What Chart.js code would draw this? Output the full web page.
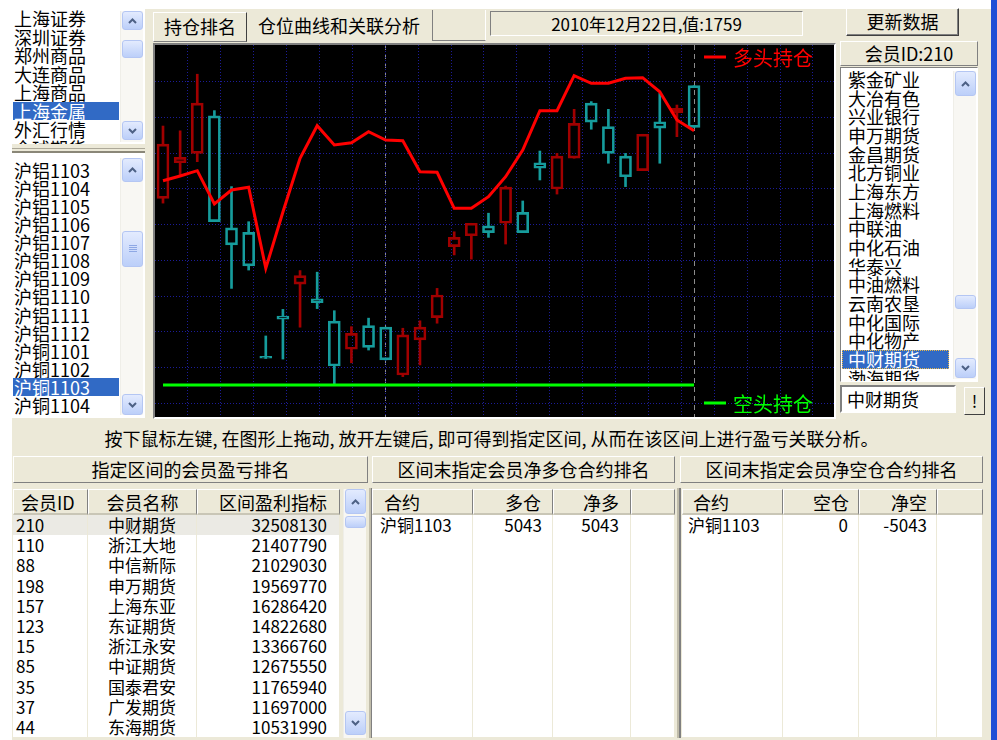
<!DOCTYPE html>
<html lang="zh-CN">
<head>
<meta charset="UTF-8">
<title>仓位曲线和关联分析</title>
<script src="https://cdn.jsdelivr.net/npm/chart.js@4.4.1/dist/chart.umd.min.js"></script>
<style>
    body { margin: 0; width: 997px; height: 740px; position: relative; overflow: hidden; background: #ece9d8; font-family: "Noto Sans CJK SC", "Noto Sans", sans-serif; color: #000; }
    div { box-sizing: border-box; }
    .a { position: absolute; }
    .raised { border: 1px solid; border-color: #fff #808080 #808080 #fff; background: #ece9d8; }
    .sunken { border: 1px solid; border-color: #808080 #fff #fff #808080; }
    .list { background: #fff; overflow: hidden; }
    .sel { background: #316ac5; color: #fff; }
    .sb { width: 23px; background: #f8f7f3; border-left: 1px solid #efeee8; }
    .btn { left: 1px; width: 21px; border: 1px solid #b4c6f3; border-radius: 3px; background: linear-gradient(#e3ebfe, #bccff9); display: flex; align-items: center; justify-content: center; }
    #chartWrap { left: 153px; top: 43px; width: 683px; height: 376px; border: 2px solid; border-color: #808080 #fff #fff #808080; }
    #chart { display: block; background: #000; }
</style>
</head>

<body>
    <div class="a" style="left:0;top:0;width:991px;height:9px;background:#fff"></div>
    <div class="a" style="left:0;top:0;width:12px;height:740px;background:#fff"></div>
    <div class="a" style="left:991px;top:0;width:6px;height:740px;background:#1f4fd6"></div>

    <div id="chartWrap" class="a"><canvas id="chart" width="679" height="372"></canvas></div>
</body>

<script>
    // 沪铜1103 daily prices, member 210 positions
    const days = ['11-09', '11-10', '11-11', '11-12', '11-15', '11-16', '11-17', '11-18', '11-19', '11-22', '11-23',
        '11-24', '11-25', '11-26', '11-29', '11-30', '12-01', '12-02', '12-03', '12-06', '12-07', '12-08',
        '12-09', '12-10', '12-13', '12-14', '12-15', '12-16', '12-17', '12-20', '12-21', '12-22'];
    const openPrice = [66230, 67570, 67920, 69330, 65120, 64950, 60210, 61800, 63000, 62450, 61610,
        60550, 61440, 61380, 59580, 60900, 61740, 64410, 64820, 65190, 65290, 65700,
        67570, 66580, 67740, 69810, 68930, 67820, 67270, 69110, 69450, 70470];
    const highPrice = [68950, 68770, 70900, 69530, 66670, 65350, 61050, 62050, 63510, 63450, 62000,
        61400, 61720, 61380, 61340, 61620, 62840, 64970, 65290, 65670, 66690, 66130,
        68010, 67920, 69580, 69870, 69580, 67920, 68640, 70180, 69740, 70470];
    const lowPrice = [66050, 67110, 67610, 65350, 62840, 63530, 60210, 60180, 61380, 62080, 59200,
        60040, 60520, 60150, 59520, 59960, 61530, 64100, 63940, 64760, 64510, 64940,
        66920, 66390, 67740, 68830, 67550, 66670, 67270, 67550, 68550, 68900];
    const closePrice = [68270, 67770, 69810, 65350, 64480, 63690, 60210, 61680, 63320, 62300, 59920,
        61150, 60620, 60150, 61090, 61380, 62590, 64760, 65290, 64940, 66650, 64940,
        67360, 67820, 69050, 69100, 67920, 67040, 68640, 68870, 69620, 68900];
    const longHold = [4051, 4145, 4250, 3589, 3867, 3921, 2314, 3431, 4496, 5142, 4759,
        4805, 5023, 4859, 4845, 4230, 4218, 3504, 3504, 3734, 4131, 4660,
        5440, 5440, 6134, 5983, 5983, 6082, 6094, 5816, 5255, 5043];
    const shortHold = [0, 0, 0, 0, 0, 0, 0, 0, 0, 0, 0,
        0, 0, 0, 0, 0, 0, 0, 0, 0, 0, 0,
        0, 0, 0, 0, 0, 0, 0, 0, 0, 0];
    const intervalMarks = [13, 31];

    const upColor = '#a00000';
    const downColor = '#169c9c';
    const candleColor = days.map((d, i) => closePrice[i] > openPrice[i] ? upColor : downColor);

    const bodyData = days.map((d, i) => ({ x: i, y: [openPrice[i], closePrice[i]] }));
    const upperWick = days.map((d, i) => ({ x: i, y: [Math.max(openPrice[i], closePrice[i]), highPrice[i]] }));
    const lowerWick = days.map((d, i) => ({ x: i, y: [lowPrice[i], Math.min(openPrice[i], closePrice[i])] }));
    const longData = days.map((d, i) => ({ x: i, y: longHold[i] }));
    const shortData = days.map((d, i) => ({ x: i, y: shortHold[i] }));

    // line keys drawn inside the plot, at the right side
    const keyRows = [12, 358];
    const lineKeys = {
        id: 'lineKeys',
        afterDatasetsDraw(chart) {
            const ctx = chart.ctx;
            ctx.save();
            ctx.font = '20px "Noto Sans CJK SC"';
            ctx.textBaseline = 'middle';
            chart.data.datasets.filter(ds => ds.type === 'line').forEach((ds, k) => {
                const y = keyRows[k];
                ctx.strokeStyle = ds.borderColor;
                ctx.lineWidth = 3;
                ctx.beginPath();
                ctx.moveTo(549, y);
                ctx.lineTo(571, y);
                ctx.stroke();
                ctx.fillStyle = ds.borderColor;
                ctx.fillText(ds.label, 578, y + 1);
            });
            ctx.restore();
        }
    };

    function evenTicks(count) {
        return scale => {
            const t = [];
            for (let k = 1; k <= count; k++) t.push({ value: k });
            scale.ticks = t;
        };
    }

    const hiddenTicks = { display: false };

    new Chart(document.getElementById('chart'), {
        type: 'bar',
        data: {
            datasets: [
                { label: 'K线', data: bodyData, xAxisID: 'x', yAxisID: 'y', backgroundColor: 'rgba(0,0,0,0)', borderColor: candleColor, borderWidth: 2, borderSkipped: false, barThickness: 12, minBarLength: 2, grouped: false, order: 1 },
                { label: '上影线', data: upperWick, xAxisID: 'x', yAxisID: 'y', backgroundColor: candleColor, borderWidth: 0, barThickness: 2, grouped: false, order: 2 },
                { label: '下影线', data: lowerWick, xAxisID: 'x', yAxisID: 'y', backgroundColor: candleColor, borderWidth: 0, barThickness: 2, grouped: false, order: 2 },
                { type: 'line', label: '多头持仓', data: longData, xAxisID: 'x', yAxisID: 'y2', borderColor: '#ff0000', borderWidth: 3, pointRadius: 0, tension: 0, order: 0 },
                { type: 'line', label: '空头持仓', data: shortData, xAxisID: 'x', yAxisID: 'y2', borderColor: '#00ff00', borderWidth: 3, pointRadius: 0, tension: 0, order: 0 }
            ]
        },
        options: {
            responsive: false,
            animation: false,
            layout: { padding: 0 },
            plugins: { legend: { display: false }, tooltip: { enabled: false } },
            scales: {
                x: {
                    type: 'linear', position: 'bottom', min: -0.467, max: 39.17, offset: false,
                    afterBuildTicks: scale => { scale.ticks = intervalMarks.map(v => ({ value: v })); },
                    ticks: hiddenTicks,
                    grid: { color: '#8c8c8c', drawTicks: false, offset: false },
                    border: { display: false, dash: [5, 4] }
                },
                xGrid: {
                    type: 'linear', axis: 'x', position: 'bottom', min: 0, max: 20.64, offset: false,
                    afterBuildTicks: evenTicks(20),
                    ticks: hiddenTicks,
                    grid: { color: '#1c1c98', drawTicks: false, offset: false },
                    border: { display: false, dash: [1, 2] }
                },
                y: { type: 'linear', min: 58000, max: 72000, display: false },
                y2: { type: 'linear', min: -634.6, max: 6742.5, display: false },
                yGrid: {
                    type: 'linear', axis: 'y', position: 'left', reverse: true, min: -0.028, max: 10.383,
                    afterBuildTicks: evenTicks(10),
                    ticks: hiddenTicks,
                    grid: { color: '#1c1c98', drawTicks: false },
                    border: { display: false, dash: [1, 2] }
                }
            }
        },
        plugins: [lineKeys]
    });

    // ---------- surrounding window ----------
    const exchanges = ['上海证券', '深圳证券', '郑州商品', '大连商品', '上海商品', '上海金属', '外汇行情', '全球期货'];
    const contracts = ['沪铝1103', '沪铝1104', '沪铝1105', '沪铝1106', '沪铝1107', '沪铝1108', '沪铝1109',
        '沪铝1110', '沪铝1111', '沪铝1112', '沪铜1101', '沪铜1102', '沪铜1103', '沪铜1104'];
    const members = ['紫金矿业', '大冶有色', '兴业银行', '申万期货', '金昌期货', '北方铜业', '上海东方', '上海燃料',
        '中联油', '中化石油', '华泰兴', '中油燃料', '云南农垦', '中化国际', '中化物产', '中财期货', '渤海期货'];
    const rankIds = ['210', '110', '88', '198', '157', '123', '15', '85', '35', '37', '44'];
    const rankNames = ['中财期货', '浙江大地', '中信新际', '申万期货', '上海东亚', '东证期货', '浙江永安', '中证期货', '国泰君安', '广发期货', '东海期货'];
    const rankProfit = ['32508130', '21407790', '21029030', '19569770', '16286420', '14822680', '13366760', '12675550', '11765940', '11697000', '10531990'];

    const page = document.body;

    function box(parent, css, html, cls) {
        const d = document.createElement('div');
        d.className = 'a ' + (cls || '');
        d.style.cssText = css;
        if (html !== undefined) d.innerHTML = html;
        parent.appendChild(d);
        return d;
    }

    function arrow(up) {
        const pts = up ? '1,5 4.5,1.5 8,5' : '1,1 4.5,4.5 8,1';
        return `<svg width="9" height="6" viewBox="0 0 9 6"><polyline points="${pts}" fill="none" stroke="#4d6185" stroke-width="2"/></svg>`;
    }
    const grip = '<svg width="8" height="8" viewBox="0 0 8 8"><path d="M0 0.5h8M0 2.5h8M0 4.5h8M0 6.5h8" stroke="#8ea8e5" stroke-width="1"/></svg>';

    function scrollBar(parent, left, top, height, upH, thumbTop, thumbH, downTop, downH, withGrip) {
        const sb = box(parent, `left:${left}px;top:${top}px;height:${height}px`, '', 'sb');
        box(sb, `top:0;height:${upH}px`, arrow(true), 'btn');
        box(sb, `top:${thumbTop}px;height:${thumbH}px`, withGrip ? grip : '', 'btn');
        box(sb, `top:${downTop}px;height:${downH}px`, arrow(false), 'btn');
    }

    function listRows(parent, items, top0, step, sel, width, padL) {
        items.forEach((t, i) => {
            box(parent, `left:1px;top:${top0 + step * i}px;width:${width}px;height:${step}px;line-height:${step}px;padding-left:${padL}px;font-size:18px;white-space:nowrap`, t, i === sel ? 'sel' : '');
        });
    }

    // left lists
    const list1 = box(page, 'left:12px;top:8px;width:133px;height:136px', '', 'list');
    listRows(list1, exchanges, 1, 18.5, 5, 106, 1);
    scrollBar(list1, 108, 3, 131, 19, 29, 18, 110, 19, false);

    box(page, 'left:12px;top:148px;width:133px;height:1px;background:#aca899');
    const list2 = box(page, 'left:12px;top:151px;width:133px;height:267px;border-top:2px solid #8a8778', '', 'list');
    listRows(list2, contracts, 7.5, 18.13, 12, 106, 1);
    scrollBar(list2, 108, 5, 257, 24, 73, 36, 236, 21, true);

    // tabs and status
    box(page, 'left:153px;top:12px;width:94px;height:30px;line-height:27px;font-size:18px;text-align:center;border-right-color:#404040', '持仓排名', 'raised');
    box(page, 'left:250px;top:12px;width:182px;height:28px;line-height:26px;font-size:18px;padding-left:8px;white-space:nowrap', '仓位曲线和关联分析');
    box(page, 'left:432px;top:10px;width:54px;height:31px;border-left:1px solid #808080;border-bottom:1px solid #808080;border-right:1px solid #fff');
    box(page, 'left:490px;top:11px;width:313px;height:25px;line-height:23px;font-size:17px;text-align:center;white-space:nowrap', '2010年12月22日,值:1759', 'sunken');

    // right panel
    box(page, 'left:846px;top:8px;width:113px;height:28px;line-height:25px;font-size:18px;text-align:center;border:1px solid;border-color:#fff #404040 #404040 #fff;box-shadow:inset -1px -1px #808080', '更新数据');
    box(page, 'left:840px;top:41px;width:138px;height:25px;line-height:23px;font-size:18px;text-align:center', '会员ID:210', 'raised');
    const list3 = box(page, 'left:840px;top:67px;width:138px;height:315px', '', 'list sunken');
    listRows(list3, members, 2, 18.67, 15, 107, 6);
    list3.children[15].style.outline = '1px dotted #e8b84a';
    list3.children[15].style.outlineOffset = '-1px';
    scrollBar(list3, 112, 3, 308, 25, 224, 14, 287, 20, false);
    box(page, 'left:840px;top:385px;width:116px;height:28px;line-height:25px;font-size:18px;padding-left:5px;background:#fff;border:2px solid;border-color:#808080 #fff #fff #808080', '中财期货');
    box(page, 'left:964px;top:387px;width:21px;height:28px;line-height:25px;font-size:17px;text-align:center;border-right-color:#404040;border-bottom-color:#404040', '!', 'raised');

    // hint and section titles
    box(page, 'left:0;top:427px;width:983px;height:22px;line-height:22px;font-size:18px;text-align:center;white-space:nowrap', '按下鼠标左键, 在图形上拖动, 放开左键后, 即可得到指定区间, 从而在该区间上进行盈亏关联分析。');
    [[13, 368, '指定区间的会员盈亏排名'], [372, 675, '区间末指定会员净多仓合约排名'], [680, 983, '区间末指定会员净空仓合约排名']].forEach(s => {
        box(page, `left:${s[0]}px;top:456px;width:${s[1] - s[0]}px;height:27px;line-height:25px;font-size:18px;text-align:center;white-space:nowrap`, s[2], 'raised');
    });

    // result tables
    function gridTable(cols, header, rows, hiFirst) {
        cols.forEach((c, j) => {
            box(page, `left:${c[0]}px;top:489px;width:${c[1] - c[0]}px;height:26px;line-height:24px;font-size:18px;text-align:${c[2]};padding:0 ${c[3]}px;white-space:nowrap;border-bottom:2px solid #c9c6b6`, header[j], 'raised');
        });
        for (let r = 0; r < 11; r++) {
            cols.forEach((c, j) => {
                const t = rows[r] ? rows[r][j] : '';
                const bg = (r === 0 && hiFirst) ? '#ebeae4' : '#fff';
                box(page, `left:${c[0]}px;top:${515 + 20.2 * r}px;width:${c[1] - c[0]}px;height:21.2px;line-height:20px;font-size:17px;background:${bg};border-right:1px solid #ece9d8;border-bottom:1px solid #ece9d8;text-align:${c[4]};padding:0 ${c[5]}px;white-space:nowrap`, t);
            });
        }
    }

    const rankRows = rankIds.map((id, i) => [id, rankNames[i], rankProfit[i]]);
    gridTable([[13, 88, 'left', 7, 'left', 3], [88, 197, 'center', 7, 'center', 7], [197, 340, 'right', 12, 'right', 12]],
        ['会员ID', '会员名称', '区间盈利指标'], rankRows, true);
    gridTable([[372, 473, 'left', 11, 'left', 8], [473, 553, 'right', 11, 'right', 10], [553, 631, 'right', 11, 'right', 11], [631, 675, 'left', 0, 'left', 0]],
        ['合约', '多仓', '净多', ''], [['沪铜1103', '5043', '5043', '']], false);
    gridTable([[682, 783, 'left', 10, 'left', 6], [783, 859, 'right', 9, 'right', 10], [859, 937, 'right', 9, 'right', 9], [937, 983, 'left', 0, 'left', 0]],
        ['合约', '空仓', '净空', ''], [['沪铜1103', '0', '-5043', '']], false);
    scrollBar(page, 343, 489, 249, 25, 27, 12, 222, 24, false);
    box(page, 'left:369px;top:488px;width:3px;height:250px;background:#c0bcaa;border-right:1px solid #808080');
    box(page, 'left:677px;top:488px;width:4px;height:250px;background:#c0bcaa;border-right:2px solid #808080');
</script>

</html>
